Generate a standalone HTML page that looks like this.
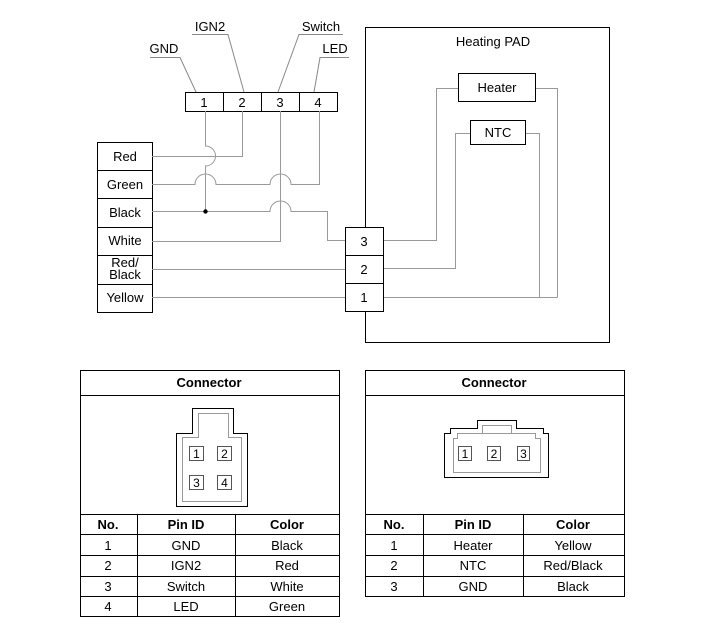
<!DOCTYPE html>
<html><head><meta charset="utf-8"><style>
html,body{margin:0;padding:0;background:#fff;}
svg{display:block;font-family:"Liberation Sans",Arial,sans-serif;}
</style></head><body>
<svg width="701" height="640" viewBox="0 0 701 640" xmlns="http://www.w3.org/2000/svg">
<g font-size="13" fill="#000">
<text x="164" y="53" text-anchor="middle">GND</text>
<text x="210" y="31" text-anchor="middle">IGN2</text>
<text x="321" y="31" text-anchor="middle">Switch</text>
<text x="335" y="53" text-anchor="middle">LED</text>
</g>
<g stroke="#888" stroke-width="1" fill="none">
<path d="M150 57.5H180L196 92"/>
<path d="M192 34.5H228L244 92"/>
<path d="M343 34.5H299L278 92"/>
<path d="M349 57.5H320L314 92"/>
</g>
<g stroke="#000" stroke-width="1" fill="#fff">
<rect x="185.5" y="92.5" width="152" height="19"/>
<path d="M223.5 92.5V111.5M261.5 92.5V111.5M299.5 92.5V111.5"/>
</g>
<g font-size="13" text-anchor="middle">
<text x="204" y="107">1</text><text x="242" y="107">2</text><text x="280" y="107">3</text><text x="318" y="107">4</text>
</g>
<g stroke="#000" fill="#fff">
<rect x="97.5" y="142.5" width="55" height="170"/>
<path d="M97.5 170.5H152.5M97.5 198.5H152.5M97.5 227.5H152.5M97.5 255.5H152.5M97.5 284.5H152.5"/>
</g>
<g font-size="13" text-anchor="middle">
<text x="125" y="161">Red</text>
<text x="125" y="189">Green</text>
<text x="125" y="217">Black</text>
<text x="125" y="245">White</text>
<text x="125" y="267">Red/</text>
<text x="125" y="279">Black</text>
<text x="125" y="302">Yellow</text>
</g>
<g stroke="#999" stroke-width="1" fill="none">
<path d="M205.5 111V146A10 10 0 0 1 205.5 166V211"/>
<path d="M152 156.5H242.5V111"/>
<path d="M152 184.5H195A10 10 0 0 1 216 184.5H270A10 10 0 0 1 291 184.5H319.5V111"/>
<path d="M152 211.5H270A10 10 0 0 1 291 211.5H327.5V240.5H345"/>
<path d="M152 241.5H280.5V111"/>
<path d="M152 269.5H345"/>
<path d="M152 297.5H345"/>
<path d="M383 240.5H436.5V88.5H458"/>
<path d="M535 88.5H557.5V297.5"/>
<path d="M383 268.5H455.5V133.5H470"/>
<path d="M526 133.5H539.5V297.5"/>
<path d="M383 297.5H557.5"/>
</g>
<circle cx="205.5" cy="211.5" r="2.2" fill="#000"/>
<g stroke="#000" fill="none">
<rect x="365.5" y="27.5" width="244" height="315"/>
</g>
<g stroke="#000" fill="#fff">
<rect x="345.5" y="227.5" width="38" height="84"/>
<path d="M345.5 255.5H383.5M345.5 283.5H383.5"/>
<rect x="458.5" y="73.5" width="77" height="28"/>
<rect x="470.5" y="120.5" width="55" height="24"/>
</g>
<g font-size="13" text-anchor="middle">
<text x="364" y="246">3</text><text x="364" y="274">2</text><text x="364" y="302">1</text>
<text x="493" y="46">Heating PAD</text>
<text x="497" y="92">Heater</text>
<text x="498" y="137">NTC</text>
</g>
<g stroke="#000" fill="none">
<rect x="80.5" y="370.5" width="259" height="246"/>
<path d="M80.5 395.5H339.5M80.5 514.5H339.5M80.5 534.5H339.5M80.5 555.5H339.5M80.5 576.5H339.5M80.5 596.5H339.5"/>
<path d="M137.5 514.5V616.5M235.5 514.5V616.5"/>
<rect x="365.5" y="370.5" width="259" height="226"/>
<path d="M365.5 395.5H624.5M365.5 514.5H624.5M365.5 534.5H624.5M365.5 555.5H624.5M365.5 576.5H624.5"/>
<path d="M423.5 514.5V596.5M523.5 514.5V596.5"/>
</g>
<g font-size="13" text-anchor="middle">
<text x="209" y="387" font-weight="bold">Connector</text>
<text x="494" y="387" font-weight="bold">Connector</text>
<text x="108" y="529" font-weight="bold">No.</text>
<text x="186" y="529" font-weight="bold">Pin ID</text>
<text x="287" y="529" font-weight="bold">Color</text>
<text x="108" y="550">1</text><text x="186" y="550">GND</text><text x="287" y="550">Black</text>
<text x="108" y="570">2</text><text x="186" y="570">IGN2</text><text x="287" y="570">Red</text>
<text x="108" y="591">3</text><text x="186" y="591">Switch</text><text x="287" y="591">White</text>
<text x="108" y="611">4</text><text x="186" y="611">LED</text><text x="287" y="611">Green</text>
<text x="394" y="529" font-weight="bold">No.</text>
<text x="473" y="529" font-weight="bold">Pin ID</text>
<text x="573" y="529" font-weight="bold">Color</text>
<text x="394" y="550">1</text><text x="473" y="550">Heater</text><text x="573" y="550">Yellow</text>
<text x="394" y="570">2</text><text x="473" y="570">NTC</text><text x="573" y="570">Red/Black</text>
<text x="394" y="591">3</text><text x="473" y="591">GND</text><text x="573" y="591">Black</text>
</g>
<g fill="none">
<path d="M176.5 506.5V433.5H192.5V408.5H233.5V433.5H247.5V506.5Z" stroke="#000"/>
<path d="M182.5 501.5V437.5H198.5V413.5H228.5V437.5H241.5V501.5Z" stroke="#999"/>
<g stroke="#555"><rect x="189.5" y="446.5" width="14" height="14"/><rect x="217.5" y="446.5" width="14" height="14"/><rect x="189.5" y="475.5" width="14" height="14"/><rect x="217.5" y="475.5" width="14" height="14"/></g>
</g>
<g font-size="12" text-anchor="middle">
<text x="196.5" y="458">1</text><text x="224.5" y="458">2</text><text x="196.5" y="487">3</text><text x="224.5" y="487">4</text>
</g>
<g fill="none">
<path d="M444.5 477.5V433.5H450.5V428.5H477.5V420.5H516.5V428.5H543.5V433.5H548.5V477.5Z" stroke="#000"/>
<path d="M453.5 472.5V438.5H457.5V433.5H535.5V438.5H540.5V472.5Z M482.5 433.5V425.5H511.5V433.5" stroke="#999"/>
<g stroke="#555"><rect x="458.5" y="446.5" width="13" height="14"/><rect x="487.5" y="446.5" width="13" height="14"/><rect x="517.5" y="446.5" width="12" height="14"/></g>
</g>
<g font-size="12" text-anchor="middle">
<text x="465" y="458">1</text><text x="494" y="458">2</text><text x="523.5" y="458">3</text>
</g>
</svg>
</body></html>
